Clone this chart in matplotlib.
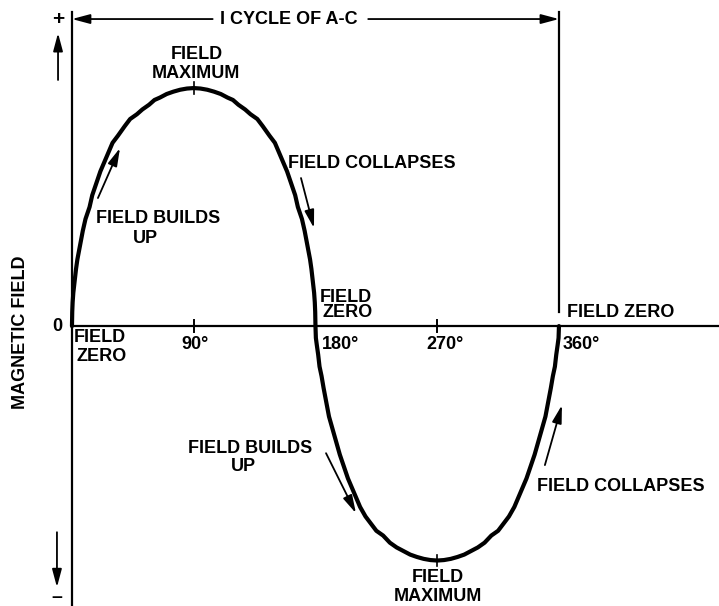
import matplotlib.pyplot as plt

# curve: angle in degrees, field (peak = 1)
upper_deg = [0, 0.2, 0.5, 1, 2, 3, 4, 6, 8, 10, 13, 15, 18, 21, 24, 27, 30, 34, 39, 43,
             48, 52, 57, 61, 65, 70, 75, 80, 85, 90,
             95, 100, 105, 110, 115, 119, 123, 128, 132, 137, 141, 146, 150, 153, 156,
             159, 162, 165, 167, 170, 172, 174, 176, 177, 178, 179, 179.5, 179.8, 180]
upper_val = [0, 0.06, 0.10, 0.14, 0.19, 0.24, 0.28, 0.34, 0.40, 0.45, 0.50, 0.55, 0.60, 0.65, 0.69,
             0.73, 0.77, 0.80, 0.84, 0.87, 0.89, 0.91, 0.93, 0.95, 0.96, 0.975, 0.985, 0.993, 0.998, 1.0,
             0.998, 0.993, 0.985, 0.975, 0.96, 0.95, 0.93, 0.91, 0.89, 0.87, 0.84, 0.80, 0.77, 0.73,
             0.69, 0.65, 0.60, 0.55, 0.50, 0.45, 0.40, 0.34, 0.28, 0.24, 0.19, 0.14, 0.10, 0.06, 0]
lower_deg = [180, 180.3, 181, 182, 183, 184.5, 186, 188, 190, 192.5, 195, 198, 201, 204, 207,
             210, 213, 217, 221, 225, 230, 235, 240, 245, 250, 255, 260, 265, 270,
             275, 280, 285, 290, 295, 300, 305, 310, 315, 319, 323, 327, 330, 333, 336,
             339, 342, 345, 347.5, 350, 352, 354, 355.5, 357, 358, 359, 359.7, 360]
lower_val = [0, -0.05, -0.08, -0.12, -0.17, -0.21, -0.26, -0.32, -0.38, -0.43, -0.48, -0.54, -0.59,
             -0.64, -0.68, -0.72, -0.76, -0.80, -0.83, -0.86, -0.88, -0.91, -0.93, -0.945, -0.96,
             -0.97, -0.978, -0.983, -0.985,
             -0.983, -0.978, -0.97, -0.96, -0.945, -0.93, -0.91, -0.88, -0.86, -0.83, -0.80, -0.76,
             -0.72, -0.68, -0.64, -0.59, -0.54, -0.48, -0.43, -0.38, -0.32, -0.26, -0.21, -0.17,
             -0.12, -0.08, -0.05, 0]

degree_labels = ["90°", "180°", "270°", "360°"]

plt.rcParams["font.family"] = ["Liberation Sans", "DejaVu Sans"]
plt.rcParams["font.weight"] = "bold"
FS = 13

fig = plt.figure(figsize=(7.19, 6.06), dpi=100)
ax = fig.add_axes([0, 0, 1, 1])
ax.set_xlim(-53.2, 478.3)
ax.set_ylim(-1.176, 1.370)
ax.set_axis_off()

# axes frame
ax.plot([0, 0], [1.32, -1.18], color="k", lw=1.6)
ax.plot([0, 478.3], [0, 0], color="k", lw=1.6)
ax.plot([360, 360], [1.32, 0.06], color="k", lw=1.6)

# the wave
ax.plot(upper_deg + lower_deg[1:], upper_val + lower_val[1:], color="k", lw=3.0,
        solid_joinstyle="round", solid_capstyle="round")

# small ticks
for d in (90, 270):
    ax.plot([d, d], [-0.025, 0.025], color="k", lw=1.4)
ax.plot([90, 90], [0.975, 1.025], color="k", lw=1.2)
ax.plot([270, 270], [-0.96, -1.01], color="k", lw=1.2)

arrow = dict(arrowstyle="-|>,head_length=0.9,head_width=0.24", color="k", lw=1.3,
             mutation_scale=12, shrinkA=0, shrinkB=0)


def arr(tail, tip):
    ax.annotate("", xy=tip, xytext=tail, arrowprops=arrow)


def txt(x, y, s, ha="center", size=FS, **kw):
    ax.text(x, y, s, ha=ha, va="center", fontsize=size, fontweight="bold", **kw)


# cycle dimension line
arr((104, 1.29), (0, 1.29))
arr((219, 1.29), (360, 1.29))
txt(160, 1.29, "I CYCLE OF A-C")

# y axis signs
txt(-10.3, 1.286, "+", size=15)
arr((-10.3, 1.034), (-10.3, 1.231))
txt(-11.1, 0, "0")
arr((-11.1, -0.866), (-11.1, -1.097))
txt(-11.1, -1.14, "–", size=14)
txt(-38.4, -0.025, "MAGNETIC FIELD", rotation=90)

# labels along the wave
txt(92, 1.14, "FIELD")
txt(92, 1.06, "MAXIMUM")
txt(159.7, 0.685, "FIELD COLLAPSES", ha="left")
arr((169.3, 0.622), (178.9, 0.412))
txt(63.6, 0.45, "FIELD BUILDS")
txt(54.0, 0.37, "UP")
arr((19.2, 0.538), (35.5, 0.748))
txt(1.5, -0.046, "FIELD", ha="left")
txt(3.7, -0.126, "ZERO", ha="left")
txt(183.3, 0.122, "FIELD", ha="left")
txt(185.5, 0.055, "ZERO", ha="left")
txt(366, 0.055, "FIELD ZERO", ha="left")

txt(91, -0.076, degree_labels[0])
txt(184.8, -0.076, degree_labels[1], ha="left")
txt(275.7, -0.076, degree_labels[2])
txt(363, -0.076, degree_labels[3], ha="left")

txt(131.6, -0.513, "FIELD BUILDS")
txt(127.1, -0.592, "UP")
arr((187.8, -0.534), (209.9, -0.786))
txt(343.7, -0.676, "FIELD COLLAPSES", ha="left")
arr((349.6, -0.584), (362.2, -0.332))
txt(270.6, -1.058, "FIELD")
txt(270.6, -1.138, "MAXIMUM")

fig.savefig("out.png", dpi=100, facecolor="white")
